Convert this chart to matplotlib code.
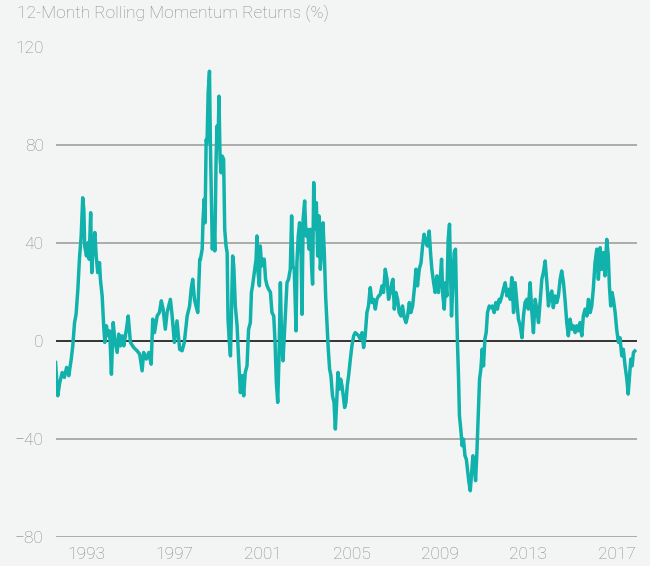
import matplotlib
matplotlib.use("Agg")
import matplotlib.pyplot as plt

# 12-month rolling momentum returns
years = [
    1991.60, 1991.70, 1991.79, 1991.90, 1992.00, 1992.10, 1992.20, 1992.31, 1992.38, 1992.46,
    1992.53, 1992.61, 1992.68, 1992.76, 1992.83, 1992.88, 1992.92, 1993.00, 1993.08, 1993.12,
    1993.19, 1993.24, 1993.30, 1993.38, 1993.44, 1993.51, 1993.59, 1993.63, 1993.71, 1993.78,
    1993.83, 1993.90, 1993.98, 1994.05, 1994.13, 1994.21, 1994.28, 1994.39, 1994.46, 1994.54,
    1994.62, 1994.69, 1994.81, 1994.89, 1994.99, 1995.14, 1995.29, 1995.41, 1995.52, 1995.59,
    1995.71, 1995.82, 1995.93, 1996.00, 1996.08, 1996.20, 1996.30, 1996.39, 1996.47, 1996.57,
    1996.65, 1996.80, 1996.88, 1996.98, 1997.10, 1997.22, 1997.33, 1997.43, 1997.56, 1997.67,
    1997.74, 1997.81, 1997.89, 1997.96, 1998.04, 1998.13,
    1998.16, 1998.24, 1998.28, 1998.33, 1998.37, 1998.42, 1998.46, 1998.51, 1998.57, 1998.61,
    1998.66, 1998.70, 1998.76, 1998.81, 1998.87, 1998.91, 1998.96, 1999.00, 1999.05, 1999.10,
    1999.15, 1999.21, 1999.26, 1999.32, 1999.37, 1999.41, 1999.47, 1999.52, 1999.56, 1999.62,
    1999.67, 1999.74, 1999.82, 1999.89, 1999.97, 2000.05, 2000.12, 2000.19, 2000.27, 2000.34,
    2000.42, 2000.47, 2000.52, 2000.60, 2000.68, 2000.72, 2000.77, 2000.83, 2000.87, 2000.93,
    2001.00, 2001.05, 2001.11, 2001.18, 2001.25,
    2001.33, 2001.40, 2001.48, 2001.54, 2001.60, 2001.66, 2001.72, 2001.78, 2001.84, 2001.90,
    2001.96, 2002.02, 2002.08, 2002.15, 2002.23, 2002.29, 2002.35, 2002.41, 2002.49, 2002.53,
    2002.59, 2002.65, 2002.72, 2002.76, 2002.81, 2002.88, 2002.94, 2003.01, 2003.08, 2003.14,
    2003.20, 2003.24, 2003.29, 2003.35, 2003.41, 2003.47, 2003.53, 2003.59, 2003.65, 2003.71,
    2003.77, 2003.83, 2003.89, 2003.95, 2004.01, 2004.07, 2004.14, 2004.21, 2004.27, 2004.33,
    2004.39, 2004.45, 2004.51, 2004.57, 2004.63, 2004.69, 2004.75, 2004.81, 2004.87, 2004.95,
    2005.02, 2005.10, 2005.17, 2005.25, 2005.32, 2005.40, 2005.48, 2005.55, 2005.62, 2005.70,
    2005.77, 2005.85, 2005.93, 2006.00, 2006.08, 2006.15, 2006.23,
    2006.30, 2006.38, 2006.45, 2006.53, 2006.61, 2006.68, 2006.76, 2006.83, 2006.88, 2006.94,
    2007.01, 2007.09, 2007.16, 2007.24, 2007.31, 2007.39, 2007.47, 2007.54, 2007.62, 2007.69,
    2007.77, 2007.86, 2007.92, 2007.99, 2008.07, 2008.15, 2008.22, 2008.29, 2008.37, 2008.44,
    2008.52, 2008.58, 2008.64, 2008.72, 2008.79, 2008.87, 2008.94, 2009.02, 2009.08, 2009.14,
    2009.20, 2009.26, 2009.32, 2009.38, 2009.44, 2009.48, 2009.53, 2009.59, 2009.65, 2009.71,
    2009.77, 2009.80, 2009.85, 2009.89, 2009.95, 2010.01, 2010.07, 2010.14, 2010.20, 2010.25,
    2010.32, 2010.38, 2010.43, 2010.50, 2010.56, 2010.62, 2010.68, 2010.74, 2010.80, 2010.86,
    2010.92, 2010.98, 2011.04, 2011.10, 2011.16, 2011.24, 2011.31, 2011.38, 2011.46, 2011.54,
    2011.61, 2011.69,
    2011.73, 2011.81, 2011.88, 2011.96, 2012.04, 2012.11, 2012.19, 2012.26, 2012.34, 2012.41,
    2012.49, 2012.56, 2012.64, 2012.72, 2012.79, 2012.86, 2012.94, 2013.01, 2013.09, 2013.17,
    2013.24, 2013.32, 2013.39, 2013.47, 2013.54, 2013.62, 2013.69, 2013.77, 2013.85, 2013.92,
    2014.00, 2014.07, 2014.14, 2014.22, 2014.30, 2014.37, 2014.45, 2014.52, 2014.60, 2014.67,
    2014.75, 2014.82, 2014.90, 2014.98, 2015.05, 2015.13, 2015.20, 2015.28, 2015.35, 2015.43,
    2015.50, 2015.58, 2015.66, 2015.73, 2015.81, 2015.88, 2015.95, 2016.03, 2016.11, 2016.18,
    2016.26, 2016.33, 2016.41, 2016.48, 2016.56, 2016.63, 2016.68, 2016.74, 2016.80, 2016.86,
    2016.94, 2017.01, 2017.09, 2017.16, 2017.24, 2017.31, 2017.39, 2017.47, 2017.53, 2017.58,
    2017.65, 2017.71, 2017.77, 2017.83,
]
returns = [
    -8.7, -22.3, -16.9, -12.8, -14.8, -10.7, -14.1, -7.3, -1.9, 7.6,
    11.0, 21.2, 33.5, 43.0, 58.6, 53.9, 38.9, 34.8, 40.3, 33.5,
    52.5, 28.0, 38.9, 44.4, 34.8, 28.0, 32.1, 25.3, 18.5, 6.3,
    -0.5, 6.3, 2.2, 4.2, -13.5, 7.6, 0.8, -4.6, 2.9, -1.9,
    2.2, -1.9, 4.9, 10.3, -0.5, -2.6, -3.9, -5.3, -12.1, -4.6,
    -7.3, -4.6, -9.4, 9.0, 3.5, 10.3, 11.7, 16.5, 13.1, 4.9,
    11.7, 17.1, 10.3, -0.5, 8.3, -3.3, -3.9, -0.5, 10.3, 14.4,
    21.2, 25.3, 17.1, 14.4, 11.7, 33.5,
    33.5, 37.6, 49.8, 58.0, 48.4, 82.4, 81.1, 101.5, 110.3, 81.1,
    58.0, 37.6, 49.8, 36.9, 74.3, 87.9, 81.1, 100.1, 74.3, 68.8,
    75.6, 74.3, 45.7, 38.9, 36.2, 9.0, -0.5, -6.0, 9.0, 34.8,
    30.7, 14.4, 6.3, -7.3, -21.0, -14.1, -22.3, -12.8, -10.1, 4.8,
    7.6, 19.9, 22.6, 28.0, 33.5, 43.0, 28.0, 22.6, 38.9, 30.7,
    33.5, 33.5, 25.3, 22.6, 21.2,
    20.0, 11.7, 10.3, -0.5, -17.0, -25.0, -6.0, 23.9, -0.5, -8.0,
    2.2, 13.1, 23.9, 25.3, 29.4, 51.2, 30.7, 29.4, 4.2, 32.1,
    43.0, 48.4, 34.8, 11.0, 49.8, 57.3, 43.0, 45.7, 37.6, 45.7,
    29.4, 23.3, 64.8, 45.7, 56.6, 34.8, 51.2, 29.4, 37.6, 48.4,
    36.2, 18.5, 7.6, -3.3, -11.4, -14.1, -22.3, -25.0, -35.9, -25.0,
    -12.8, -19.6, -15.5, -18.2, -22.3, -27.1, -25.0, -18.2, -14.1, -7.3,
    -1.9, 2.2, 3.5, 2.9, 2.2, 0.8, 3.5, -2.6, 2.2, 11.7,
    14.4, 21.9, 15.8, 17.1, 13.1, 17.1, 18.5,
    19.0, 22.6, 19.9, 29.4, 25.3, 17.1, 19.9, 23.9, 25.3, 13.1,
    19.9, 17.1, 11.7, 10.3, 14.4, 9.7, 7.6, 10.3, 15.8, 11.7,
    14.4, 22.6, 29.4, 22.6, 29.4, 32.1, 38.9, 43.7, 40.3, 38.9,
    45.0, 36.2, 29.4, 23.9, 19.9, 26.7, 19.9, 25.3, 33.5, 18.5,
    13.1, 23.9, 18.5, 41.6, 47.8, 30.7, 10.3, 22.6, 36.2, 37.6,
    10.3, -0.5, -15.5, -30.5, -35.9, -42.7, -40.0, -46.8, -48.2, -52.2,
    -57.7, -61.1, -55.0, -46.8, -50.9, -57.0, -45.4, -30.5, -15.5, -11.4,
    -3.3, -10.1, 0.8, 3.5, 11.7, 14.4, 13.7, 14.4, 11.7, 15.8,
    13.1, 17.1,
    16.0, 18.5, 21.2, 23.9, 18.5, 21.2, 17.1, 26.0, 11.7, 23.9,
    15.8, 9.0, 6.3, 1.4, 10.3, 15.8, 17.1, 13.1, 23.9, 11.7,
    3.5, 17.1, 13.1, 7.6, 15.8, 25.3, 28.0, 32.8, 23.9, 14.4,
    18.5, 20.5, 13.7, 18.5, 15.8, 18.5, 25.3, 28.7, 23.9, 17.1,
    7.5, 2.2, 9.0, 4.9, 6.3, 3.5, 6.3, 4.2, 7.6, 2.2,
    10.3, 13.1, 10.3, 17.1, 11.7, 14.4, 21.2, 32.1, 37.6, 25.3,
    38.2, 29.4, 36.2, 26.7, 41.6, 34.8, 22.6, 14.4, 19.9, 17.1,
    11.7, 4.8, -0.5, 1.4, -6.0, -3.3, -10.1, -15.5, -21.6, -15.5,
    -7.3, -10.1, -4.6, -4.0,
]

y_ticks = [120, 80, 40, 0, -40, -80]
x_ticks = [1993, 1997, 2001, 2005, 2009, 2013, 2017]

bg = "#f3f5f4"
text_grey = "#878787"

plt.rcParams["font.family"] = ["Roboto", "DejaVu Sans"]

fig = plt.figure(figsize=(6.5, 5.66), dpi=100, facecolor=bg)
ax = fig.add_axes([56 / 650, 1 - 537 / 566, 581 / 650, (537 - 47.5) / 566])
ax.set_facecolor(bg)

for v in y_ticks:
    if v == 0:
        continue
    ax.axhline(v, color="#a6a6a6", lw=1.3, zorder=1)
ax.axhline(0, color="#333333", lw=1.4, zorder=2)

ax.plot(years, returns, color="#12b2ac", lw=2.5, zorder=3, solid_joinstyle="round")

ax.set_xlim(1991.62, 2017.93)
ax.set_ylim(-80, 120)
ax.set_yticks(y_ticks)
ax.set_xticks(x_ticks)
ax.set_xticklabels([str(x) for x in x_ticks])
ax.tick_params(axis="both", length=0, labelsize=12.5, labelcolor=text_grey)
ax.tick_params(axis="y", pad=9)
ax.tick_params(axis="x", pad=7)
for lab in ax.get_xticklabels() + ax.get_yticklabels():
    lab.set_fontweight("light")
for s in ax.spines.values():
    s.set_visible(False)

fig.text(17 / 650, 1 - 5 / 566, "12-Month Rolling Momentum Returns (%)",
         ha="left", va="top", fontsize=12.5, color=text_grey, fontweight="light")

fig.savefig("out.png", dpi=100, facecolor=bg)
